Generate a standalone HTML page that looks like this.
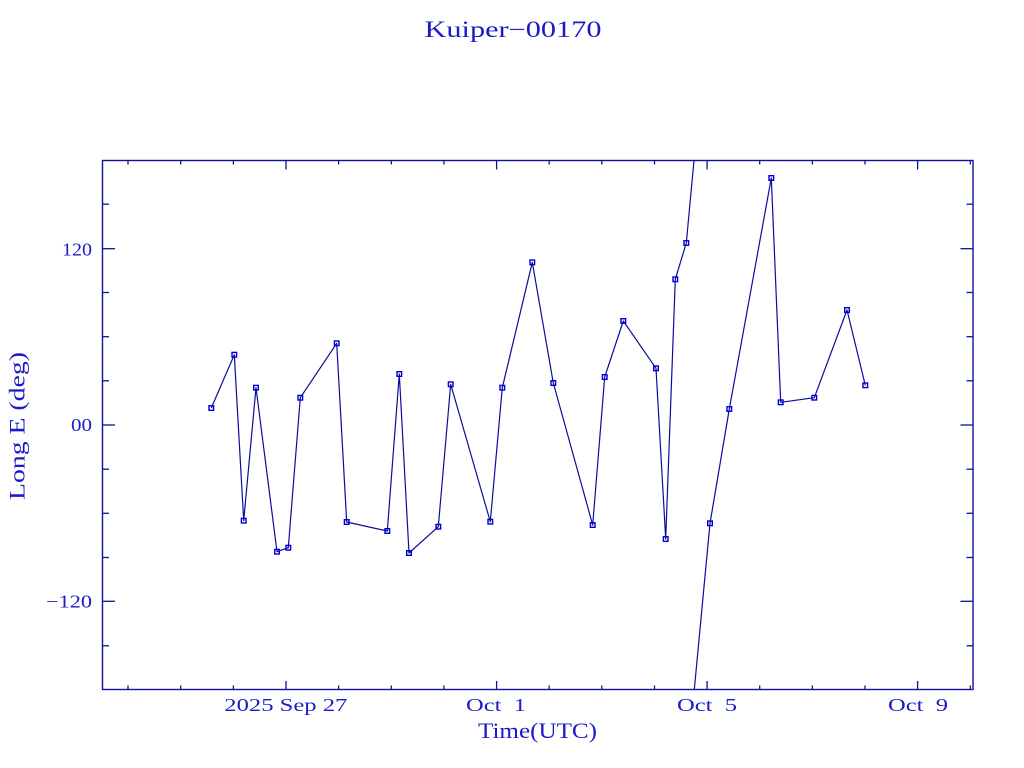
<!DOCTYPE html>
<html>
<head>
<meta charset="utf-8">
<style>
  html, body { margin: 0; padding: 0; background: #ffffff; }
  body { width: 1024px; height: 768px; overflow: hidden; }
  svg { display: block; }
  .pre { white-space: pre; }
</style>
</head>
<body>
<svg width="1024" height="768" viewBox="0 0 1024 768" xmlns="http://www.w3.org/2000/svg">
  <rect x="0" y="0" width="1024" height="768" fill="#ffffff"/>

  <!-- Title -->
  <text x="513" y="37" font-family="Liberation Serif, serif" font-size="23" fill="#1a1ac8" text-anchor="middle" textLength="177" lengthAdjust="spacingAndGlyphs">Kuiper−00170</text>

  <!-- Plot frame -->
  <rect x="102.5" y="160.5" width="870.5" height="529" fill="none" stroke="#10109e" stroke-width="1.4"/>

  <!-- Y ticks (left & right) -->
  <g stroke="#10109e" stroke-width="1.3">
    <line x1="102.5" y1="204.2" x2="109" y2="204.2"/>
    <line x1="102.5" y1="292.5" x2="109" y2="292.5"/>
    <line x1="102.5" y1="336.7" x2="109" y2="336.7"/>
    <line x1="102.5" y1="380.8" x2="109" y2="380.8"/>
    <line x1="102.5" y1="469.2" x2="109" y2="469.2"/>
    <line x1="102.5" y1="513.3" x2="109" y2="513.3"/>
    <line x1="102.5" y1="557.5" x2="109" y2="557.5"/>
    <line x1="102.5" y1="645.8" x2="109" y2="645.8"/>
    <line x1="102.5" y1="248.7" x2="115" y2="248.7"/>
    <line x1="102.5" y1="425" x2="115" y2="425"/>
    <line x1="102.5" y1="601.3" x2="115" y2="601.3"/>

    <line x1="973" y1="204.2" x2="966.5" y2="204.2"/>
    <line x1="973" y1="292.5" x2="966.5" y2="292.5"/>
    <line x1="973" y1="336.7" x2="966.5" y2="336.7"/>
    <line x1="973" y1="380.8" x2="966.5" y2="380.8"/>
    <line x1="973" y1="469.2" x2="966.5" y2="469.2"/>
    <line x1="973" y1="513.3" x2="966.5" y2="513.3"/>
    <line x1="973" y1="557.5" x2="966.5" y2="557.5"/>
    <line x1="973" y1="645.8" x2="966.5" y2="645.8"/>
    <line x1="973" y1="248.7" x2="960.5" y2="248.7"/>
    <line x1="973" y1="425" x2="960.5" y2="425"/>
    <line x1="973" y1="601.3" x2="960.5" y2="601.3"/>
  </g>

  <!-- X ticks (bottom & top) -->
  <g stroke="#10109e" stroke-width="1.3">
    <line x1="128" y1="689.5" x2="128" y2="685.5"/>
    <line x1="180.7" y1="689.5" x2="180.7" y2="685.5"/>
    <line x1="233.4" y1="689.5" x2="233.4" y2="685.5"/>
    <line x1="338.6" y1="689.5" x2="338.6" y2="685.5"/>
    <line x1="391.3" y1="689.5" x2="391.3" y2="685.5"/>
    <line x1="443.9" y1="689.5" x2="443.9" y2="685.5"/>
    <line x1="549.2" y1="689.5" x2="549.2" y2="685.5"/>
    <line x1="601.8" y1="689.5" x2="601.8" y2="685.5"/>
    <line x1="654.5" y1="689.5" x2="654.5" y2="685.5"/>
    <line x1="759.7" y1="689.5" x2="759.7" y2="685.5"/>
    <line x1="812.4" y1="689.5" x2="812.4" y2="685.5"/>
    <line x1="865" y1="689.5" x2="865" y2="685.5"/>
    <line x1="970.3" y1="689.5" x2="970.3" y2="685.5"/>
    <line x1="286" y1="689.5" x2="286" y2="681"/>
    <line x1="496.6" y1="689.5" x2="496.6" y2="681"/>
    <line x1="707.1" y1="689.5" x2="707.1" y2="681"/>
    <line x1="917.6" y1="689.5" x2="917.6" y2="681"/>

    <line x1="128" y1="160.5" x2="128" y2="164.5"/>
    <line x1="180.7" y1="160.5" x2="180.7" y2="164.5"/>
    <line x1="233.4" y1="160.5" x2="233.4" y2="164.5"/>
    <line x1="338.6" y1="160.5" x2="338.6" y2="164.5"/>
    <line x1="391.3" y1="160.5" x2="391.3" y2="164.5"/>
    <line x1="443.9" y1="160.5" x2="443.9" y2="164.5"/>
    <line x1="549.2" y1="160.5" x2="549.2" y2="164.5"/>
    <line x1="601.8" y1="160.5" x2="601.8" y2="164.5"/>
    <line x1="654.5" y1="160.5" x2="654.5" y2="164.5"/>
    <line x1="759.7" y1="160.5" x2="759.7" y2="164.5"/>
    <line x1="812.4" y1="160.5" x2="812.4" y2="164.5"/>
    <line x1="865" y1="160.5" x2="865" y2="164.5"/>
    <line x1="970.3" y1="160.5" x2="970.3" y2="164.5"/>
    <line x1="286" y1="160.5" x2="286" y2="169.5"/>
    <line x1="496.6" y1="160.5" x2="496.6" y2="169.5"/>
    <line x1="707.1" y1="160.5" x2="707.1" y2="169.5"/>
    <line x1="917.6" y1="160.5" x2="917.6" y2="169.5"/>
  </g>

  <!-- Y tick labels -->
  <g font-family="Liberation Serif, serif" font-size="18" fill="#1a1ac8" text-anchor="end">
    <text x="92" y="255.5" textLength="30" lengthAdjust="spacingAndGlyphs">120</text>
    <text x="92" y="431" textLength="21" lengthAdjust="spacingAndGlyphs">00</text>
    <text x="92" y="607.5" textLength="46" lengthAdjust="spacingAndGlyphs">−120</text>
  </g>

  <!-- X tick labels -->
  <g font-family="Liberation Serif, serif" font-size="18" fill="#1a1ac8" text-anchor="middle">
    <text class="pre" x="285.8" y="711" textLength="123" lengthAdjust="spacingAndGlyphs">2025 Sep 27</text>
    <text class="pre" x="496" y="711" textLength="60" lengthAdjust="spacingAndGlyphs">Oct  1</text>
    <text class="pre" x="707" y="711" textLength="60" lengthAdjust="spacingAndGlyphs">Oct  5</text>
    <text class="pre" x="918" y="711" textLength="60" lengthAdjust="spacingAndGlyphs">Oct  9</text>
  </g>

  <!-- Axis labels -->
  <text x="537.5" y="738" font-family="Liberation Serif, serif" font-size="22" fill="#1a1ac8" text-anchor="middle" textLength="119" lengthAdjust="spacingAndGlyphs">Time(UTC)</text>
  <text transform="translate(24.5,426) rotate(-90)" x="0" y="0" font-family="Liberation Serif, serif" font-size="22" fill="#1a1ac8" text-anchor="middle" textLength="148" lengthAdjust="spacingAndGlyphs">Long E (deg)</text>

  <!-- Data line -->
  <g fill="none" stroke="#0c0c9c" stroke-width="1.2" stroke-linejoin="round">
    <polyline points="211.3,408 234.3,354.7 243.7,520.7 256,387.7 277,551.7 288.3,547.7 300.3,397.7 336.7,343.3 346.7,522 387.3,531 399.3,374 409,553 438.3,526.7 450.7,384.3 490.3,521.7 502.3,387.7 532.3,262.3 553.3,383 592.7,525 604.7,377 623.3,321 656,368.3 665.7,539 675.3,279.3 686.3,243 694,160.5"/>
    <polyline points="694.3,689.5 710,523.3 729.3,409 771.3,178 780.7,402.3 814.3,397.7 847,310 865.3,385.3"/>
  </g>

  <!-- Markers -->
  <g fill="none" stroke="#0000cc" stroke-width="1.4">
    <rect x="209" y="405.7" width="4.6" height="4.6"/>
    <rect x="232" y="352.4" width="4.6" height="4.6"/>
    <rect x="241.4" y="518.4" width="4.6" height="4.6"/>
    <rect x="253.7" y="385.4" width="4.6" height="4.6"/>
    <rect x="274.7" y="549.4" width="4.6" height="4.6"/>
    <rect x="286" y="545.4" width="4.6" height="4.6"/>
    <rect x="298" y="395.4" width="4.6" height="4.6"/>
    <rect x="334.4" y="341" width="4.6" height="4.6"/>
    <rect x="344.4" y="519.7" width="4.6" height="4.6"/>
    <rect x="385" y="528.7" width="4.6" height="4.6"/>
    <rect x="397" y="371.7" width="4.6" height="4.6"/>
    <rect x="406.7" y="550.7" width="4.6" height="4.6"/>
    <rect x="436" y="524.4" width="4.6" height="4.6"/>
    <rect x="448.4" y="382" width="4.6" height="4.6"/>
    <rect x="488" y="519.4" width="4.6" height="4.6"/>
    <rect x="500" y="385.4" width="4.6" height="4.6"/>
    <rect x="530" y="260" width="4.6" height="4.6"/>
    <rect x="551" y="380.7" width="4.6" height="4.6"/>
    <rect x="590.4" y="522.7" width="4.6" height="4.6"/>
    <rect x="602.4" y="374.7" width="4.6" height="4.6"/>
    <rect x="621" y="318.7" width="4.6" height="4.6"/>
    <rect x="653.7" y="366" width="4.6" height="4.6"/>
    <rect x="663.4" y="536.7" width="4.6" height="4.6"/>
    <rect x="673" y="277" width="4.6" height="4.6"/>
    <rect x="684" y="240.7" width="4.6" height="4.6"/>
    <rect x="707.7" y="521" width="4.6" height="4.6"/>
    <rect x="727" y="406.7" width="4.6" height="4.6"/>
    <rect x="769" y="175.7" width="4.6" height="4.6"/>
    <rect x="778.4" y="400" width="4.6" height="4.6"/>
    <rect x="812" y="395.4" width="4.6" height="4.6"/>
    <rect x="844.7" y="307.7" width="4.6" height="4.6"/>
    <rect x="863" y="383" width="4.6" height="4.6"/>
  </g>
</svg>
</body>
</html>
